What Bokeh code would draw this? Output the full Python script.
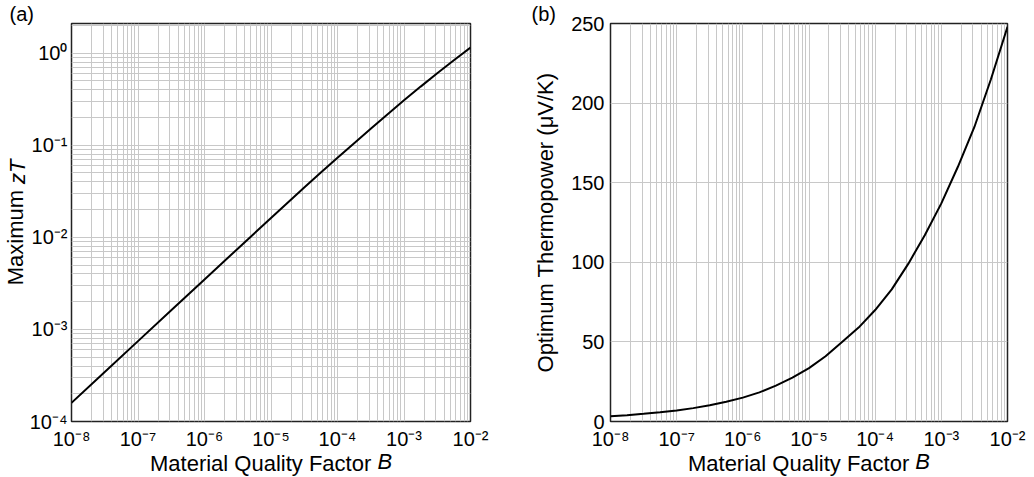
import math
from bokeh.plotting import figure
from bokeh.models import (FixedTicker, CustomJSTickFormatter, Range1d, LogAxis, Title)
from bokeh.layouts import row
from bokeh.embed import file_html
from bokeh.resources import INLINE

# ---- data ----
B_zt = [1e-8, 3.16e-8, 1e-7, 3.16e-7, 1e-6, 3.16e-6, 1e-5, 3.16e-5, 5.62e-5,
        1e-4, 1.78e-4, 3.16e-4, 5.62e-4, 1e-3, 1.78e-3, 3.16e-3, 5.62e-3, 1e-2]
zT_max = [1.596e-4, 3.45e-4, 7.46e-4, 1.614e-3, 3.49e-3, 7.53e-3, 0.0162, 0.0347, 0.0505,
          0.0733, 0.1054, 0.1514, 0.2163, 0.3076, 0.4335, 0.6053, 0.8375, 1.148]

B_S = [1e-8, 1.78e-8, 3.16e-8, 5.62e-8, 1e-7, 1.78e-7, 3.16e-7, 5.62e-7,
       1e-6, 1.78e-6, 3.16e-6, 5.62e-6, 1e-5, 1.78e-5, 3.16e-5, 5.62e-5,
       1e-4, 1.78e-4, 3.16e-4, 5.62e-4, 1e-3, 1.78e-3, 3.16e-3, 5.62e-3, 1e-2]
S_opt = [3.3, 4.0, 4.8, 5.8, 6.9, 8.4, 10.2, 12.4,
         15.0, 18.3, 22.5, 27.6, 33.5, 41, 50, 59,
         70, 83, 99, 117, 137, 160, 185, 215, 248]

x_decades = [-8, -7, -6, -5, -4, -3, -2]
zt_decades = [-4, -3, -2, -1, 0]
S_ticks = [0, 50, 100, 150, 200, 250]

x_title = "Material Quality Factor"
x_title_it = "B"
zt_title = "Maximum"
zt_title_it = "zT"
S_title = "Optimum Thermopower (\u03bcV/K)"

FONT = "Liberation Sans"
GRID = "#c8c8c8"
TICK_SIZE = "20px"
LABEL_SIZE = "22px"

x_major = [10.0 ** d for d in x_decades]
x_minor = [k * 10.0 ** d for d in x_decades[:-1] for k in range(2, 10)]
y_major = [10.0 ** d for d in zt_decades]
y_minor = [k * 10.0 ** d for d in zt_decades for k in range(2, 10)]

sup_code = """
const m = {'-':'\u207b','0':'\u2070','1':'\u00b9','2':'\u00b2','3':'\u00b3','4':'\u2074',
           '5':'\u2075','6':'\u2076','7':'\u2077','8':'\u2078','9':'\u2079'};
const e = Math.round(Math.log10(tick));
return '10' + String(e).split('').map(c => m[c]).join('');
"""


def plain_axis(ax):
    ax.axis_line_color = None
    ax.major_tick_line_color = None
    ax.minor_tick_line_color = None
    ax.major_tick_out = 0
    ax.major_tick_in = 0
    ax.minor_tick_out = 0
    ax.minor_tick_in = 0
    ax.major_label_text_font = FONT
    ax.major_label_text_color = "black"


def style(p, y_minor_grid=True):
    p.outline_line_color = "#222222"
    p.outline_line_width = 1.5
    p.background_fill_color = "white"
    p.border_fill_color = "white"
    for ax in (p.xaxis[0], p.yaxis[0]):
        plain_axis(ax)
        ax.major_label_text_font_size = TICK_SIZE
    p.xaxis[0].major_label_standoff = 6
    p.yaxis[0].major_label_standoff = 4
    p.xgrid.grid_line_color = GRID
    p.xgrid.minor_grid_line_color = GRID
    p.ygrid.grid_line_color = GRID
    if y_minor_grid:
        p.ygrid.minor_grid_line_color = GRID
    p.xgrid.level = "underlay"
    p.ygrid.level = "underlay"


def title_axis(pos, text, font_style, standoff, vertical=False):
    ax = LogAxis(ticker=FixedTicker(ticks=[pos]),
                 formatter=CustomJSTickFormatter(code="return %r;" % text))
    plain_axis(ax)
    ax.major_label_text_font_size = LABEL_SIZE
    ax.major_label_text_font_style = font_style
    ax.major_label_standoff = standoff
    if vertical:
        ax.major_label_orientation = "vertical"
    return ax


def panel_title(p, text, offset):
    p.add_layout(Title(text=text, align="left", offset=offset, standoff=-2,
                       text_font=FONT, text_font_size="20px",
                       text_font_style="normal", text_color="black"), "above")


# ---------------- panel (a) ----------------
p1 = figure(frame_width=399, frame_height=398, x_axis_type="log", y_axis_type="log",
            x_range=Range1d(1e-8, 1e-2), y_range=Range1d(1e-4, 2.1),
            output_backend="svg", toolbar_location=None,
            min_border_left=70, min_border_right=20, min_border_top=23,
            min_border_bottom=54)
p1.xaxis.ticker = FixedTicker(ticks=x_major, minor_ticks=x_minor)
p1.yaxis.ticker = FixedTicker(ticks=y_major, minor_ticks=y_minor)
p1.xaxis.formatter = CustomJSTickFormatter(code=sup_code)
p1.yaxis.formatter = CustomJSTickFormatter(code=sup_code)
style(p1, True)
p1.line(B_zt, zT_max, line_color="black", line_width=2)

p1.add_layout(title_axis(10 ** -5.156, x_title, "normal", -2), "below")
p1.add_layout(title_axis(10 ** -3.290, x_title_it, "italic", -30), "below")
p1.add_layout(title_axis(10 ** -2.003, zt_title, "normal", -2, True), "left")
p1.add_layout(title_axis(10 ** -1.289, zt_title_it, "italic", -30, True), "left")
panel_title(p1, "(a)", -62)

# ---------------- panel (b) ----------------
p2 = figure(frame_width=397, frame_height=398, x_axis_type="log",
            x_range=Range1d(1e-8, 1e-2), y_range=Range1d(0, 250),
            output_backend="svg", toolbar_location=None,
            min_border_left=120, min_border_right=22, min_border_top=23,
            min_border_bottom=54)
p2.xaxis.ticker = FixedTicker(ticks=x_major, minor_ticks=x_minor)
p2.yaxis.ticker = FixedTicker(ticks=S_ticks)
p2.xaxis.formatter = CustomJSTickFormatter(code=sup_code)
style(p2, False)
p2.yaxis[0].major_label_standoff = 6
p2.yaxis[0].axis_label = S_title
p2.yaxis[0].axis_label_text_font = FONT
p2.yaxis[0].axis_label_text_font_size = LABEL_SIZE
p2.yaxis[0].axis_label_text_font_style = "normal"
p2.yaxis[0].axis_label_text_color = "black"
p2.yaxis[0].axis_label_standoff = 10
p2.line(B_S, S_opt, line_color="black", line_width=2)

p2.add_layout(title_axis(10 ** -5.157, x_title, "normal", -2), "below")
p2.add_layout(title_axis(10 ** -3.282, x_title_it, "italic", -30), "below")
panel_title(p2, "(b)", -79)

layout = row(p1, p2)
open("out.html", "w").write(file_html(layout, INLINE))
